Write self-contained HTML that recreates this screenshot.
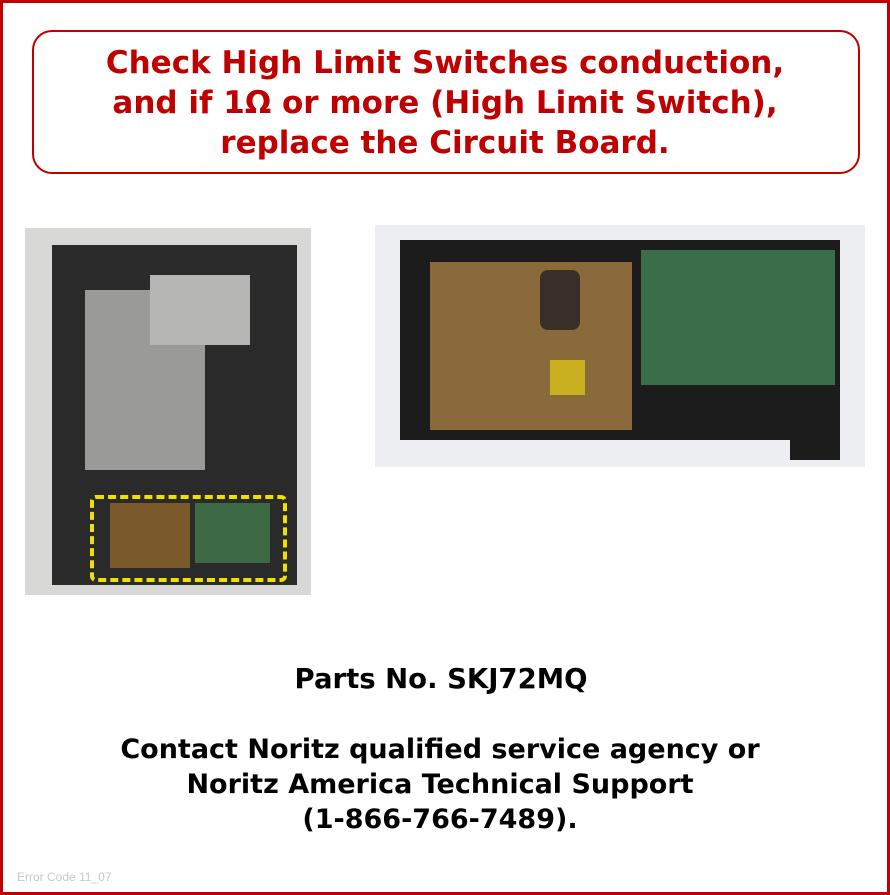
<!DOCTYPE html>
<html><head><meta charset="utf-8"><style>
body{margin:0;width:890px;height:895px;position:relative;background:#fff;font-family:"Liberation Sans","DejaVu Sans",sans-serif;overflow:hidden}
.a{position:absolute}
.t{position:absolute;left:0;width:890px;text-align:center;font-weight:bold;font-family:"DejaVu Sans","Liberation Sans",sans-serif}
</style></head><body>
<div class="a" style="left:0;top:0;width:884px;height:889px;border:3px solid #c00000"></div>
<div class="a" style="left:32px;top:30px;width:824px;height:140px;border:2px solid #c00000;border-radius:20px"></div>
<div class="t" style="top:43px;color:#c00000;font-size:31px;line-height:40px;left:0;width:890px">Check High Limit Switches conduction,<br>and if 1Ω or more (High Limit Switch),<br>replace the Circuit Board.</div>

<!-- left photo -->
<div class="a" style="left:25px;top:228px;width:286px;height:367px;background:#d8d8d6"></div>
<div class="a" style="left:52px;top:245px;width:245px;height:340px;background:#2a2a2a"></div>
<div class="a" style="left:85px;top:290px;width:120px;height:180px;background:#9a9a98"></div>
<div class="a" style="left:150px;top:275px;width:100px;height:70px;background:#b5b5b3"></div>
<div class="a" style="left:90px;top:495px;width:189px;height:79px;border:4px dashed #f0e000;border-radius:6px"></div>
<div class="a" style="left:110px;top:503px;width:80px;height:65px;background:#7a5a2a"></div>
<div class="a" style="left:195px;top:503px;width:75px;height:60px;background:#3d6a45"></div>

<!-- right photo -->
<div class="a" style="left:375px;top:225px;width:490px;height:242px;background:#eceef1"></div>
<div class="a" style="left:400px;top:240px;width:440px;height:200px;background:#1c1c1c"></div>
<div class="a" style="left:790px;top:380px;width:50px;height:80px;background:#1c1c1c"></div>
<div class="a" style="left:430px;top:262px;width:202px;height:168px;background:#8a6a3a"></div>
<div class="a" style="left:641px;top:250px;width:194px;height:135px;background:#3a6e4a"></div>
<div class="a" style="left:540px;top:270px;width:40px;height:60px;background:#3a2f28;border-radius:8px"></div>
<div class="a" style="left:550px;top:360px;width:35px;height:35px;background:#c8b020"></div>

<div class="t" style="top:663px;font-size:27.5px;color:#000;left:-4px">Parts No. SKJ72MQ</div>
<div class="t" style="top:732px;font-size:27px;line-height:35px;color:#000;left:-5px">Contact Noritz qualified service agency or<br>Noritz America Technical Support<br>(1-866-766-7489).</div>
<div class="a" style="left:17px;top:870px;font-size:12px;color:#c8c8c8">Error Code 11_07</div>
</body></html>
